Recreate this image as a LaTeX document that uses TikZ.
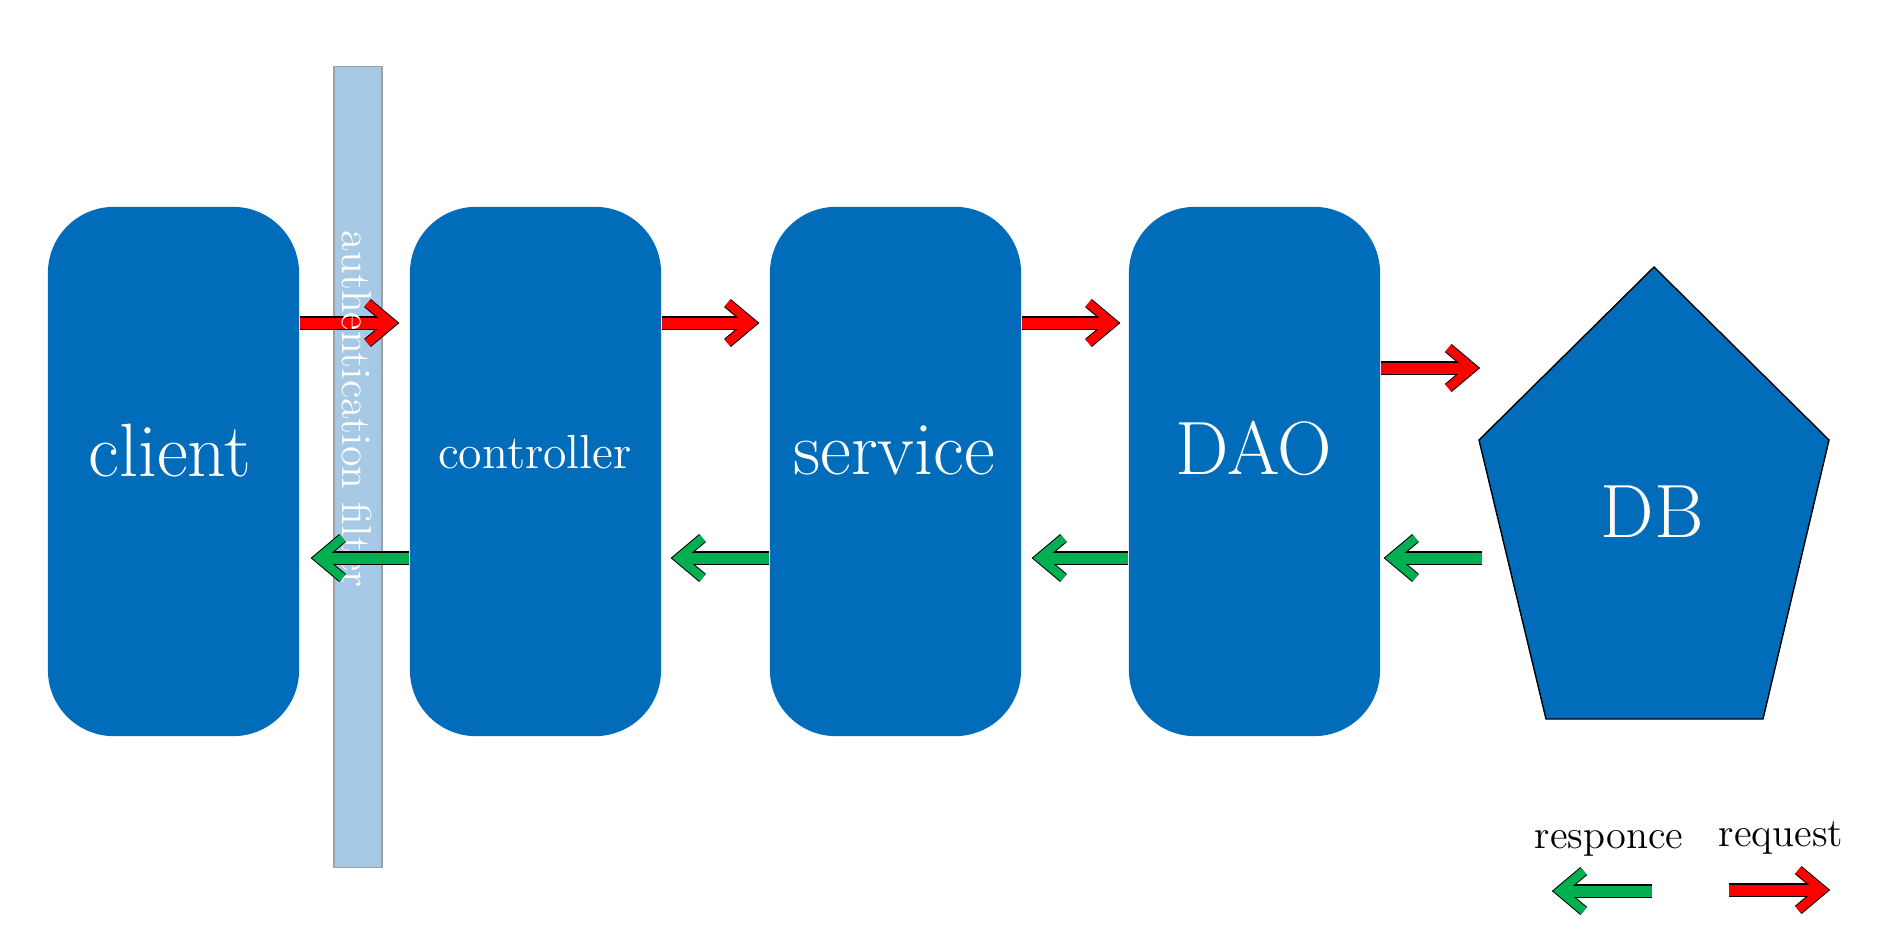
\documentclass[tikz,border=0pt]{standalone}
\usetikzlibrary{calc}
\definecolor{boxblue}{RGB}{1,108,186}
\definecolor{barblue}{RGB}{166,202,229}
\definecolor{bargray}{RGB}{160,160,160}
\definecolor{reqred}{RGB}{255,0,0}
\definecolor{resgreen}{RGB}{0,176,80}
\tikzset{
  layerbox/.style={fill=boxblue, draw=none, rounded corners=0.66cm, minimum width=2.51cm, minimum height=5.29cm, inner sep=0pt},
  bigtext/.style={text=white, font=\fontsize{21.5}{25}\selectfont, anchor=base, inner sep=0pt},
  smalltext/.style={text=white, font=\fontsize{13.6}{16}\selectfont, anchor=base, inner sep=0pt},
  legendtext/.style={text=black, font=\fontsize{11.5}{14}\selectfont, anchor=base, inner sep=0pt},
}
\newcommand\flowarr[3]{%
  \draw[line width=0.135cm, black] (#2) -- (#3);
  \draw[line width=0.105cm, black, line join=miter] ($(#3)!0.31cm!40:(#2)$) -- (#3) -- ($(#3)!0.31cm!-40:(#2)$);
  \draw[line width=0.11cm, #1] (#2) -- (#3);
  \draw[line width=0.085cm, #1, line join=miter] ($(#3)!0.31cm!40:(#2)$) -- (#3) -- ($(#3)!0.31cm!-40:(#2)$);
}
\begin{document}
\begin{tikzpicture}[x=0.01cm, y=-0.01cm]
\useasboundingbox[fill=white] (0,0) rectangle (1890,945);

% boxes
\node[layerbox] (client) at (173.5,471.5) {};
\node[layerbox] (controller) at (535.5,471.5) {};
\node[layerbox] (service) at (895.5,471.5) {};
\node[layerbox] (dao) at (1254.5,471.5) {};

% DB pentagon
\coordinate (dbtop) at (1654,267);
\coordinate (dbul) at (1479,440);
\coordinate (dbur) at (1829,440);
\coordinate (dbbl) at (1546,719);
\coordinate (dbbr) at (1763,719);
\draw[fill=boxblue, draw=black, line width=0.4pt] (dbtop) -- (dbur) -- (dbbr) -- (dbbl) -- (dbul) -- cycle;

% labels
\node[bigtext] (clientlbl) at (170,476) {client};
\node[smalltext] (controllerlbl) at (535,468) {controller};
\node[bigtext] (servicelbl) at (894,474) {service};
\node[bigtext] (daolbl) at (1254,474) {DAO};
\node[bigtext] (db) at (1652,537) {DB};

% filter bar
\node[fill=barblue, draw=bargray, line width=0.4pt, minimum width=0.48cm, minimum height=8.0cm, inner sep=0pt] (filter) at (358,467) {};

% request arrows
\coordinate (r1s) at ($(client.east)+(0,-148.5)$);
\coordinate (r1e) at ($(controller.west)+(-18,-148.5)$);
\coordinate (r2s) at ($(controller.east)+(0,-148.5)$);
\coordinate (r2e) at ($(service.west)+(-18,-148.5)$);
\coordinate (r3s) at ($(service.east)+(0,-148.5)$);
\coordinate (r3e) at ($(dao.west)+(-16,-148.5)$);
\coordinate (r4s) at ($(dao.east)+(0,-103.5)$);
\coordinate (r4e) at (1472,368);
\flowarr{reqred}{r1s}{r1e}
\flowarr{reqred}{r2s}{r2e}
\flowarr{reqred}{r3s}{r3e}
\flowarr{reqred}{r4s}{r4e}

% filter text
\node[text=white, font=\fontsize{11.9}{14}\selectfont, rotate=-90, inner sep=0pt] (filterlbl) at (357,409) {authentication filter};

% response arrows
\coordinate (g1s) at ($(controller.west)+(0,86.5)$);
\coordinate (g1e) at ($(client.east)+(19,86.5)$);
\coordinate (g2s) at ($(service.west)+(0,86.5)$);
\coordinate (g2e) at ($(controller.east)+(17,86.5)$);
\coordinate (g3s) at ($(dao.west)+(0,86.5)$);
\coordinate (g3e) at ($(service.east)+(18,86.5)$);
\coordinate (g4s) at (1482,558);
\coordinate (g4e) at ($(dao.east)+(11,86.5)$);
\flowarr{resgreen}{g1s}{g1e}
\flowarr{resgreen}{g2s}{g2e}
\flowarr{resgreen}{g3s}{g3e}
\flowarr{resgreen}{g4s}{g4e}

% legend
\node[legendtext] (resplbl) at (1609,848) {responce};
\node[legendtext] (reqlbl) at (1781,846) {request};
\coordinate (lgs) at (1652,891);
\coordinate (lge) at (1560,891);
\coordinate (lrs) at (1729,890);
\coordinate (lre) at (1822,890);
\flowarr{resgreen}{lgs}{lge}
\flowarr{reqred}{lrs}{lre}
\end{tikzpicture}
\end{document}
